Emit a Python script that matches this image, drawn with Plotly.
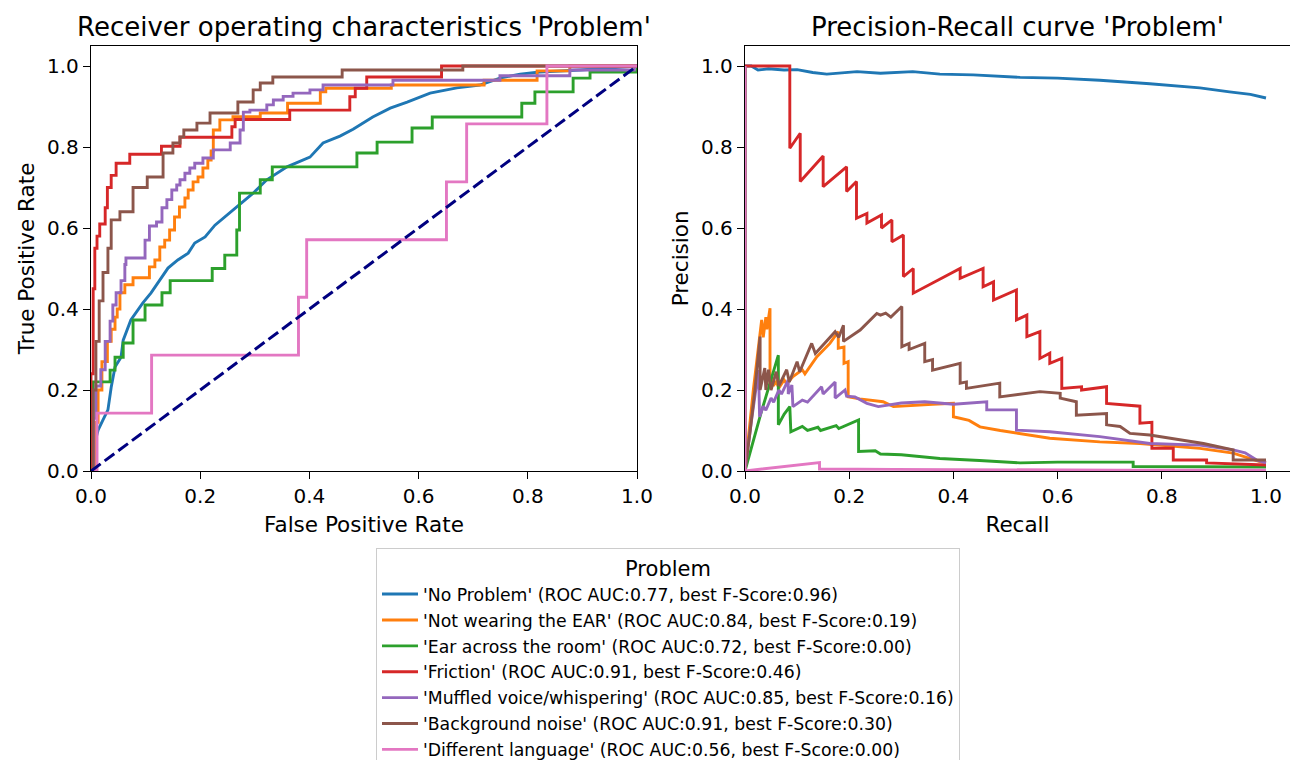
import plotly.graph_objects as go

# ---- classes and summary scores -------------------------------------------
class_names = [
    "No Problem",
    "Not wearing the EAR",
    "Ear across the room",
    "Friction",
    "Muffled voice/whispering",
    "Background noise",
    "Different language",
]
roc_auc = [0.77, 0.84, 0.72, 0.91, 0.85, 0.91, 0.56]
best_f_score = [0.96, 0.19, 0.00, 0.46, 0.16, 0.30, 0.00]

# ---- ROC curves (false positive rate, true positive rate) -----------------
roc_fpr_no_problem = [0, 0.005, 0.009, 0.013, 0.022, 0.031, 0.037, 0.044, 0.055, 0.059,
                      0.073, 0.086, 0.095, 0.11, 0.126, 0.141, 0.159, 0.178, 0.19, 0.209,
                      0.227, 0.245, 0.267, 0.297, 0.322, 0.359, 0.401, 0.425, 0.456, 0.48,
                      0.516, 0.548, 0.579, 0.621, 0.67, 0.712, 0.749, 0.786, 0.822, 0.896, 1.0]
roc_tpr_no_problem = [0, 0.03, 0.08, 0.101, 0.126, 0.151, 0.207, 0.257, 0.281, 0.323,
                      0.373, 0.398, 0.415, 0.44, 0.472, 0.501, 0.521, 0.538, 0.563, 0.578,
                      0.607, 0.627, 0.652, 0.686, 0.719, 0.751, 0.775, 0.81, 0.827, 0.844,
                      0.874, 0.896, 0.911, 0.933, 0.946, 0.953, 0.97, 0.98, 0.985, 0.99, 1.0]

roc_fpr_not_wearing = [0, 0.007, 0.013, 0.02, 0.03, 0.037, 0.044, 0.048, 0.053, 0.062,
                       0.077, 0.107, 0.117, 0.126, 0.135, 0.144, 0.153, 0.162, 0.172, 0.178,
                       0.187, 0.196, 0.205, 0.214, 0.22, 0.224, 0.236, 0.26, 0.31, 0.36,
                       0.42, 0.43, 0.55, 0.72, 0.817, 0.877, 1.0]
roc_tpr_not_wearing = [0, 0.12, 0.2, 0.27, 0.32, 0.35, 0.38, 0.40, 0.44, 0.46,
                       0.477, 0.504, 0.521, 0.553, 0.57, 0.595, 0.627, 0.652, 0.674, 0.694,
                       0.714, 0.726, 0.748, 0.768, 0.79, 0.842, 0.867, 0.875, 0.884, 0.908,
                       0.936, 0.945, 0.953, 0.965, 0.988, 1.0, 1.0]

roc_fpr_across_room = [0, 0.004, 0.035, 0.044, 0.059, 0.077, 0.099, 0.13, 0.145, 0.222,
                       0.245, 0.267, 0.272, 0.31, 0.332, 0.487, 0.524, 0.588, 0.625, 0.789,
                       0.813, 0.883, 0.914, 1.0]
roc_tpr_across_room = [0, 0.22, 0.249, 0.281, 0.316, 0.373, 0.41, 0.44, 0.47, 0.50,
                       0.533, 0.595, 0.686, 0.719, 0.751, 0.785, 0.812, 0.847, 0.874, 0.908,
                       0.936, 0.97, 0.985, 1.0]

roc_fpr_friction = [0, 0, 0.004, 0.007, 0.011, 0.016, 0.026, 0.03, 0.037, 0.046,
                    0.071, 0.129, 0.163, 0.258, 0.264, 0.364, 0.474, 0.484, 0.505, 0.642, 1.0]
roc_tpr_friction = [0, 0.24, 0.45, 0.55, 0.58, 0.61, 0.65, 0.70, 0.73, 0.76,
                    0.782, 0.802, 0.824, 0.85, 0.868, 0.891, 0.924, 0.945, 0.973, 1.0, 1.0]

roc_fpr_muffled = [0, 0.005, 0.009, 0.018, 0.026, 0.035, 0.04, 0.046, 0.055, 0.062,
                   0.064, 0.099, 0.107, 0.12, 0.13, 0.139, 0.148, 0.157, 0.163, 0.172,
                   0.181, 0.19, 0.205, 0.224, 0.255, 0.273, 0.279, 0.291, 0.322, 0.334,
                   0.352, 0.37, 0.401, 0.425, 0.553, 0.749, 0.877, 0.995, 1.0]
roc_tpr_muffled = [0, 0.13, 0.21, 0.25, 0.32, 0.37, 0.41, 0.44, 0.47, 0.51,
                   0.526, 0.57, 0.605, 0.615, 0.65, 0.67, 0.694, 0.706, 0.719, 0.735,
                   0.748, 0.76, 0.773, 0.793, 0.81, 0.842, 0.886, 0.891, 0.904, 0.916,
                   0.925, 0.933, 0.941, 0.953, 0.965, 0.976, 0.99, 1.0, 1.0]

roc_fpr_background = [0, 0.004, 0.009, 0.015, 0.022, 0.031, 0.037, 0.053, 0.077, 0.103,
                      0.132, 0.15, 0.163, 0.17, 0.194, 0.218, 0.269, 0.297, 0.31, 0.333,
                      0.46, 0.681, 1.0]
roc_tpr_background = [0, 0.2, 0.32, 0.42, 0.49, 0.55, 0.62, 0.64, 0.70, 0.726,
                      0.785, 0.81, 0.825, 0.842, 0.859, 0.884, 0.911, 0.941, 0.958, 0.973,
                      0.99, 1.0, 1.0]

roc_fpr_language = [0, 0.011, 0.111, 0.38, 0.395, 0.651, 0.688, 0.835, 1.0]
roc_tpr_language = [0, 0.143, 0.286, 0.429, 0.571, 0.714, 0.857, 1.0, 1.0]

# ---- Precision-recall curves (recall, precision) --------------------------
pr_rec_no_problem = [0, 0.012, 0.025, 0.045, 0.075, 0.1, 0.13, 0.157, 0.215, 0.26, 0.322,
                     0.374, 0.438, 0.528, 0.6, 0.681, 0.777, 0.873, 0.93, 0.97, 1.0]
pr_prec_no_problem = [1.0, 1.0, 0.99, 0.993, 0.99, 0.991, 0.984, 0.98, 0.986, 0.982, 0.986,
                      0.98, 0.978, 0.972, 0.97, 0.965, 0.956, 0.946, 0.936, 0.93, 0.921]

pr_rec_not_wearing = [0, 0, 0.016, 0.032, 0.035, 0.04, 0.042, 0.048, 0.048, 0.052,
                      0.054, 0.06, 0.065, 0.075, 0.08, 0.092, 0.11, 0.115, 0.138, 0.163,
                      0.179, 0.179, 0.19, 0.19, 0.198, 0.198, 0.22, 0.265, 0.285, 0.32,
                      0.36, 0.4, 0.4, 0.43, 0.451, 0.49, 0.528, 0.585, 0.681, 0.758,
                      0.873, 0.937, 0.988, 1.0]
pr_prec_not_wearing = [1, 0, 0.2, 0.373, 0.33, 0.38, 0.35, 0.402, 0.208, 0.23,
                       0.21, 0.22, 0.205, 0.225, 0.215, 0.233, 0.25, 0.24, 0.282, 0.315,
                       0.344, 0.303, 0.306, 0.266, 0.27, 0.183, 0.178, 0.171, 0.159, 0.162,
                       0.165, 0.167, 0.134, 0.125, 0.109, 0.1, 0.093, 0.081, 0.072, 0.068,
                       0.056, 0.044, 0.023, 0.02]

pr_rec_across_room = [0, 0, 0.03, 0.064, 0.064, 0.075, 0.086, 0.088, 0.11, 0.12,
                      0.14, 0.145, 0.175, 0.18, 0.218, 0.218, 0.25, 0.26, 0.3, 0.34,
                      0.374, 0.45, 0.528, 0.6, 0.745, 0.745, 1.0]
pr_prec_across_room = [1, 0, 0.14, 0.286, 0.114, 0.14, 0.159, 0.097, 0.11, 0.1,
                       0.108, 0.1, 0.112, 0.105, 0.126, 0.048, 0.05, 0.042, 0.04, 0.035,
                       0.031, 0.026, 0.02, 0.022, 0.022, 0.011, 0.01]

pr_rec_friction = [0, 0.086, 0.086, 0.106, 0.106, 0.15, 0.15, 0.195, 0.195, 0.214,
                   0.214, 0.234, 0.234, 0.262, 0.262, 0.282, 0.282, 0.304, 0.304, 0.323,
                   0.323, 0.413, 0.413, 0.457, 0.457, 0.477, 0.477, 0.521, 0.521, 0.541,
                   0.541, 0.566, 0.566, 0.585, 0.585, 0.608, 0.608, 0.646, 0.646, 0.694,
                   0.694, 0.758, 0.758, 0.781, 0.781, 0.822, 0.822, 0.886, 0.886, 1.0]
pr_prec_friction = [1.0, 1.0, 0.797, 0.834, 0.715, 0.778, 0.702, 0.751, 0.69, 0.715,
                    0.624, 0.636, 0.612, 0.632, 0.6, 0.62, 0.566, 0.583, 0.48, 0.5,
                    0.439, 0.5, 0.476, 0.5, 0.455, 0.467, 0.422, 0.447, 0.373, 0.385,
                    0.332, 0.344, 0.278, 0.291, 0.266, 0.278, 0.204, 0.208, 0.2, 0.208,
                    0.167, 0.16, 0.118, 0.12, 0.056, 0.056, 0.027, 0.027, 0.02, 0.015]

pr_rec_muffled = [0, 0, 0.012, 0.026, 0.028, 0.035, 0.04, 0.05, 0.055, 0.065,
                  0.07, 0.083, 0.083, 0.09, 0.092, 0.11, 0.12, 0.147, 0.15, 0.173,
                  0.173, 0.192, 0.195, 0.211, 0.234, 0.256, 0.3, 0.345, 0.4, 0.464,
                  0.464, 0.521, 0.521, 0.585, 0.681, 0.777, 0.873, 0.937, 0.96, 0.982, 1.0]
pr_prec_muffled = [1, 0, 0.12, 0.249, 0.134, 0.16, 0.15, 0.18, 0.17, 0.2,
                   0.19, 0.225, 0.19, 0.212, 0.159, 0.175, 0.17, 0.208, 0.19, 0.22,
                   0.18, 0.2, 0.185, 0.183, 0.167, 0.159, 0.168, 0.171, 0.165, 0.171,
                   0.151, 0.151, 0.101, 0.097, 0.085, 0.068, 0.064, 0.052, 0.045, 0.027, 0.02]

pr_rec_background = [0, 0, 0.01, 0.019, 0.029, 0.029, 0.038, 0.04, 0.045, 0.05,
                     0.06, 0.065, 0.08, 0.085, 0.1, 0.105, 0.128, 0.135, 0.173, 0.18,
                     0.189, 0.189, 0.221, 0.253, 0.26, 0.27, 0.28, 0.301, 0.301, 0.315,
                     0.315, 0.345, 0.345, 0.36, 0.36, 0.413, 0.413, 0.425, 0.425, 0.489,
                     0.489, 0.566, 0.605, 0.605, 0.636, 0.636, 0.694, 0.694, 0.72, 0.739,
                     0.777, 0.88, 0.937, 0.937, 1.0]
pr_prec_background = [1, 0, 0.1, 0.2, 0.332, 0.2, 0.254, 0.2, 0.25, 0.2,
                      0.245, 0.21, 0.25, 0.22, 0.27, 0.245, 0.315, 0.29, 0.344, 0.33,
                      0.36, 0.32, 0.348, 0.389, 0.385, 0.39, 0.38, 0.406, 0.307, 0.315,
                      0.3, 0.315, 0.27, 0.275, 0.249, 0.266, 0.217, 0.22, 0.204, 0.217,
                      0.183, 0.196, 0.192, 0.18, 0.171, 0.138, 0.142, 0.114, 0.11, 0.093,
                      0.089, 0.068, 0.052, 0.027, 0.027]

pr_rec_language = [0, 0, 0.143, 0.143, 0.286, 0.429, 0.571, 0.714, 0.857, 1.0]
pr_prec_language = [1, 0, 0.021, 0.005, 0.004, 0.003, 0.003, 0.002, 0.002, 0.002]

# ---- tables used by the plotting loop -------------------------------------
roc_fpr = [roc_fpr_no_problem, roc_fpr_not_wearing, roc_fpr_across_room, roc_fpr_friction,
           roc_fpr_muffled, roc_fpr_background, roc_fpr_language]
roc_tpr = [roc_tpr_no_problem, roc_tpr_not_wearing, roc_tpr_across_room, roc_tpr_friction,
           roc_tpr_muffled, roc_tpr_background, roc_tpr_language]
pr_rec = [pr_rec_no_problem, pr_rec_not_wearing, pr_rec_across_room, pr_rec_friction,
          pr_rec_muffled, pr_rec_background, pr_rec_language]
pr_prec = [pr_prec_no_problem, pr_prec_not_wearing, pr_prec_across_room, pr_prec_friction,
           pr_prec_muffled, pr_prec_background, pr_prec_language]

# the dense curve is drawn point to point, the others as right-then-up staircases
roc_line_shape = ["linear", "hv", "hv", "hv", "hv", "hv", "hv"]
colors = ["#1f77b4", "#ff7f0e", "#2ca02c", "#d62728", "#9467bd", "#8c564b", "#e377c2"]

W, H = 1290, 760
FONT = "DejaVu Sans"
LW = 2.9

fig = go.Figure()

for i, name in enumerate(class_names):
    label = f"'{name}' (ROC AUC:{roc_auc[i]:.2f}, best F-Score:{best_f_score[i]:.2f})"
    fig.add_trace(go.Scatter(
        x=roc_fpr[i], y=roc_tpr[i], mode="lines", name=label, legendgroup=name,
        line=dict(color=colors[i], width=LW, shape=roc_line_shape[i]),
        xaxis="x", yaxis="y", hoverinfo="skip",
    ))

# chance diagonal
fig.add_trace(go.Scatter(
    x=[0, 1], y=[0, 1], mode="lines", showlegend=False,
    line=dict(color="#000080", width=3, dash="12px,5px"),
    xaxis="x", yaxis="y", hoverinfo="skip",
))

for i, name in enumerate(class_names):
    fig.add_trace(go.Scatter(
        x=pr_rec[i], y=pr_prec[i], mode="lines", showlegend=False, legendgroup=name,
        line=dict(color=colors[i], width=LW),
        xaxis="x2", yaxis="y2", hoverinfo="skip",
    ))

# plot-area geometry in pixels
left_x0, left_x1 = 91, 637
right_x0 = 745
right_unit = 521
y_bottom, y_top = 471, 45.75

axis_common = dict(
    showline=True, mirror=True, linecolor="black", linewidth=1.4,
    ticks="outside", ticklen=7, tickwidth=1.4, tickcolor="black",
    showgrid=False, zeroline=False,
    tickmode="linear", tick0=0, dtick=0.2, tickformat=".1f",
    tickfont=dict(family=FONT, size=20, color="black"),
    title_font=dict(family=FONT, size=21.5, color="black"),
)

fig.update_layout(
    width=W, height=H,
    margin=dict(l=0, r=0, t=0, b=0, pad=0, autoexpand=False),
    paper_bgcolor="white", plot_bgcolor="white",
    font=dict(family=FONT, color="black"),
    xaxis=dict(axis_common, domain=[left_x0 / W, left_x1 / W], range=[0, 1],
               anchor="y", title=dict(text="False Positive Rate", standoff=9)),
    yaxis=dict(axis_common, domain=[1 - y_bottom / H, 1 - y_top / H], range=[0, 1.05],
               anchor="x", title=dict(text="True Positive Rate", standoff=6)),
    xaxis2=dict(axis_common, domain=[right_x0 / W, 1.0],
                range=[0, (W - right_x0) / right_unit],
                anchor="y2", title=dict(text="Recall", standoff=9)),
    yaxis2=dict(axis_common, domain=[1 - y_bottom / H, 1 - y_top / H], range=[0, 1.05],
                anchor="x2", title=dict(text="Precision", standoff=6)),
    legend=dict(
        x=376 / W, y=1 - 548 / H, xanchor="left", yanchor="top",
        bgcolor="white", bordercolor="#cccccc", borderwidth=1,
        font=dict(family=FONT, size=17.3, color="black"),
        title=dict(text="Problem", side="top center",
                   font=dict(family=FONT, size=21, color="black")),
        tracegroupgap=0.4, itemwidth=36,
    ),
    annotations=[
        dict(text="Receiver operating characteristics 'Problem'",
             x=(left_x0 + left_x1) / 2 / W, y=1 - 27 / H, xref="paper", yref="paper",
             xanchor="center", yanchor="middle", showarrow=False,
             font=dict(family=FONT, size=26, color="black")),
        dict(text="Precision-Recall curve 'Problem'",
             x=(right_x0 + W) / 2 / W, y=1 - 27 / H, xref="paper", yref="paper",
             xanchor="center", yanchor="middle", showarrow=False,
             font=dict(family=FONT, size=26, color="black")),
    ],
)

fig.write_html("out.html")
